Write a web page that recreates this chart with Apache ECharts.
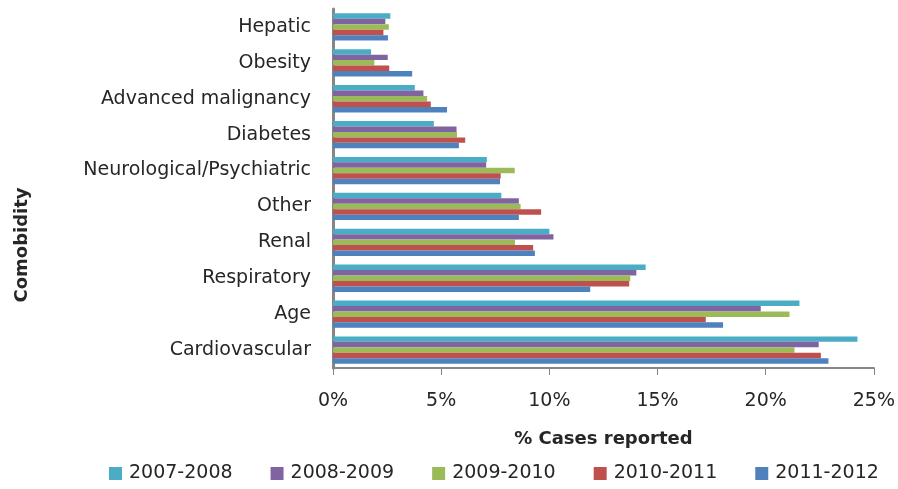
<!DOCTYPE html>
<html>
<head>
<meta charset="utf-8">
<script src="https://cdn.jsdelivr.net/npm/echarts@6/dist/echarts.min.js"></script>
<style>
  html, body { margin: 0; padding: 0; background: #fff; }
  #chart { width: 898px; height: 489px; }
</style>
</head>
<body>
<div id="chart"></div>
<script>
// categories listed top to bottom (yAxis is inverted)
const categories = ['Hepatic', 'Obesity', 'Advanced malignancy', 'Diabetes', 'Neurological/Psychiatric',
  'Other', 'Renal', 'Respiratory', 'Age', 'Cardiovascular']
const seasons = ['2007-2008', '2008-2009', '2009-2010', '2010-2011', '2011-2012']
const colors = ['#4BACC6', '#8064A2', '#9BBB59', '#C0504D', '#4F81BD']

// % cases reported per season, same order as categories
const v2007 = [2.65, 1.76, 3.78, 4.66, 7.11, 7.78, 10.0, 14.45, 21.56, 24.24]
const v2008 = [2.42, 2.53, 4.18, 5.71, 7.08, 8.59, 10.19, 14.02, 19.77, 22.45]
const v2009 = [2.58, 1.91, 4.35, 5.73, 8.40, 8.67, 8.41, 13.74, 21.10, 21.33]
const v2010 = [2.33, 2.60, 4.52, 6.11, 7.75, 9.62, 9.25, 13.69, 17.23, 22.55]
const v2011 = [2.54, 3.66, 5.27, 5.82, 7.72, 8.59, 9.33, 11.89, 18.03, 22.90]
const values = [v2007, v2008, v2009, v2010, v2011]

const font = '"DejaVu Sans", sans-serif'
const textColor = '#262626'

const chart = echarts.init(document.getElementById('chart'), null, { renderer: 'canvas' })

chart.setOption({
  animation: false,
  backgroundColor: '#fff',
  textStyle: { fontFamily: font },
  grid: { left: 333, right: 22, top: 9, bottom: 121 },
  // y axis title sits lower than the plot centre in the original
  graphic: [{
    type: 'text',
    x: 22,
    y: 245,
    rotation: Math.PI / 2,
    style: {
      text: 'Comobidity',
      fill: textColor,
      font: 'bold 18px "DejaVu Sans", sans-serif',
      align: 'center',
      verticalAlign: 'middle',
    },
  }],
  legend: {
    data: seasons,
    top: 464,
    left: 109,
    padding: 0,
    itemWidth: 13,
    itemHeight: 13,
    itemGap: 38,
    icon: 'rect',
    textStyle: { color: textColor, fontSize: 19, fontFamily: font, padding: [0, 0, 0, 2] },
  },
  xAxis: {
    type: 'value',
    min: 0,
    max: 25,
    interval: 5,
    name: '% Cases reported',
    nameLocation: 'middle',
    nameGap: 62,
    nameTextStyle: { color: textColor, fontSize: 18, fontWeight: 'bold', fontFamily: font },
    axisLine: { show: true, lineStyle: { color: '#868686', width: 2 } },
    axisTick: { show: true, length: 7, lineStyle: { color: '#868686', width: 1 } },
    axisLabel: {
      color: textColor,
      fontSize: 19,
      margin: 24,
      formatter: (v) => v + '%',
    },
    splitLine: { show: false },
  },
  yAxis: {
    type: 'category',
    data: categories,
    inverse: true,
    axisLine: { show: true, lineStyle: { color: '#868686', width: 3 } },
    axisTick: { show: false },
    axisLabel: { color: textColor, fontSize: 19, margin: 22 },
  },
  series: seasons.map((name, i) => ({
    name: name,
    type: 'bar',
    data: values[i],
    barGap: '0%',
    barCategoryGap: '24%',
    itemStyle: { color: colors[i] },
  })),
})
</script>
</body>
</html>
